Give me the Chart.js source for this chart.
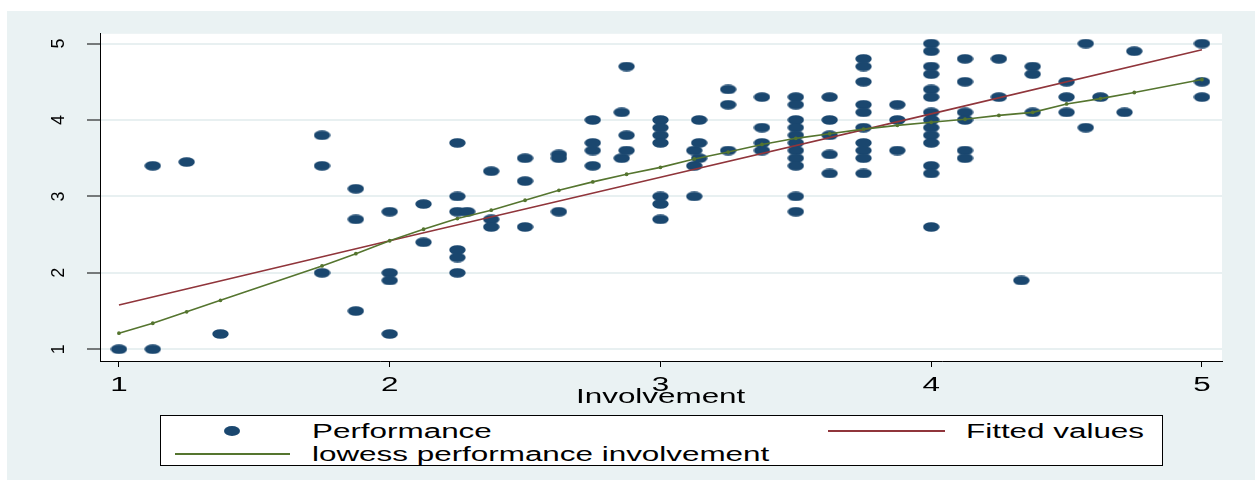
<!DOCTYPE html>
<html>
<head>
<meta charset="utf-8">
<script src="https://cdn.jsdelivr.net/npm/chart.js@4.4.0/dist/chart.umd.min.js"></script>
<style>
  body { margin: 0; width: 1259px; height: 485px; overflow: hidden; position: relative; background: #fff;
         font-family: "Liberation Sans", Arial, sans-serif; color: #000; }
  #panel { position: absolute; left: 7px; top: 11px; width: 1248px; height: 469px; background: #eaf2f3; }
  #chart { position: absolute; left: 0; top: 0; }
  .txt { position: absolute; font-size: 20px; line-height: 20px; white-space: nowrap;
         transform: scaleX(1.57); transform-origin: 0 0; }
  #legend { position: absolute; left: 160px; top: 415px; width: 1003px; height: 51px; background: #fff;
            border: 1px solid #000; box-sizing: border-box; }
  .mk { position: absolute; left: 224px; top: 426px; width: 16px; height: 10px; border-radius: 50%; background: #1a476f; }
  .ln { position: absolute; height: 0; border-top: 2px solid; }
</style>
</head>
<body>
<div id="panel"></div>
<canvas id="chart" width="1259" height="485"></canvas>
<div class="txt" style="left:576px; top:386px;">Involvement</div>
<div id="legend"></div>
<span class="mk"></span>
<div class="txt" style="left:312px; top:421px;">Performance</div>
<div class="ln" style="left:828px; width:117px; top:430px; border-color:#90353b;"></div>
<div class="txt" style="left:966px; top:421px;">Fitted values</div>
<div class="ln" style="left:175px; width:115px; top:453px; border-color:#55752f;"></div>
<div class="txt" style="left:312px; top:444px;">lowess performance involvement</div>
<script>
// scatter: Involvement (x) vs Performance (y)
const involvement = [
  1,
  1.125, 1.125,
  1.25,
  1.375,
  1.75, 1.75, 1.75,
  1.875, 1.875, 1.875,
  2, 2, 2, 2,
  2.125, 2.125,
  2.25, 2.25, 2.25, 2.25, 2.25, 2.25,
  2.286,
  2.375, 2.375, 2.375,
  2.5, 2.5, 2.5,
  2.625, 2.625, 2.625,
  2.75, 2.75, 2.75, 2.75,
  2.857, 2.857,
  2.875, 2.875, 2.875,
  3, 3, 3, 3, 3, 3, 3,
  3.125, 3.125, 3.125,
  3.143, 3.143, 3.143,
  3.25, 3.25, 3.25,
  3.375, 3.375, 3.375, 3.375,
  3.5, 3.5, 3.5, 3.5, 3.5, 3.5, 3.5, 3.5, 3.5, 3.5, 3.5,
  3.625, 3.625, 3.625, 3.625, 3.625,
  3.75, 3.75, 3.75, 3.75, 3.75, 3.75, 3.75, 3.75, 3.75, 3.75,
  3.875, 3.875, 3.875,
  4, 4, 4, 4, 4, 4, 4, 4, 4, 4, 4, 4, 4, 4,
  4.125, 4.125, 4.125, 4.125, 4.125, 4.125,
  4.25, 4.25,
  4.333,
  4.375, 4.375, 4.375,
  4.5, 4.5, 4.5,
  4.571, 4.571,
  4.625,
  4.714,
  4.75,
  5, 5, 5
];
const performance = [
  1.0,
  3.4, 1.0,
  3.45,
  1.2,
  3.8, 3.4, 2.0,
  3.1, 2.7, 1.5,
  2.8, 2.0, 1.9, 1.2,
  2.9, 2.4,
  3.7, 3.0, 2.8, 2.3, 2.2, 2.0,
  2.8,
  3.33, 2.7, 2.6,
  3.5, 3.2, 2.6,
  3.55, 3.5, 2.8,
  4.0, 3.7, 3.6, 3.4,
  4.1, 3.5,
  4.7, 3.8, 3.6,
  4.0, 3.9, 3.8, 3.7, 3.0, 2.9, 2.7,
  3.6, 3.4, 3.0,
  4.0, 3.7, 3.5,
  4.4, 4.2, 3.6,
  4.3, 3.9, 3.7, 3.6,
  4.3, 4.2, 4.0, 3.9, 3.8, 3.7, 3.6, 3.5, 3.4, 3.0, 2.8,
  4.3, 4.0, 3.8, 3.55, 3.3,
  4.8, 4.7, 4.5, 4.2, 4.1, 3.9, 3.7, 3.6, 3.5, 3.3,
  4.2, 4.0, 3.6,
  5.0, 4.9, 4.7, 4.6, 4.4, 4.3, 4.1, 4.0, 3.9, 3.8, 3.7, 3.4, 3.3, 2.6,
  4.8, 4.5, 4.1, 4.0, 3.6, 3.5,
  4.8, 4.3,
  1.9,
  4.7, 4.6, 4.1,
  4.5, 4.3, 4.1,
  5.0, 3.9,
  4.3,
  4.1,
  4.9,
  5.0, 4.5, 4.3
];

// linear fit
const fitX = [1, 2, 3, 4, 5];
const fitY = [1.58, 2.42, 3.25, 4.08, 4.92];

// lowess performance involvement
const lowessX = [1, 1.125, 1.25, 1.375, 1.75, 1.875, 2, 2.125, 2.25, 2.375, 2.5, 2.625, 2.75, 2.875, 3,
                 3.125, 3.25, 3.375, 3.5, 3.625, 3.75, 3.875, 4, 4.125, 4.25, 4.375, 4.5, 4.625, 4.75, 5];
const lowessY = [1.21, 1.34, 1.49, 1.64, 2.09, 2.25, 2.42, 2.57, 2.71, 2.82, 2.95, 3.08, 3.19, 3.29, 3.38,
                 3.49, 3.58, 3.68, 3.76, 3.82, 3.88, 3.93, 3.97, 4.01, 4.06, 4.10, 4.21, 4.28, 4.36, 4.53];

const xTicks = [1, 2, 3, 4, 5];
const yTicks = [1, 2, 3, 4, 5];

const FONT = '"Liberation Sans", Arial, sans-serif';

function pairs(xs, ys) {
  return xs.map(function (x, i) { return { x: x, y: ys[i] }; });
}

// stretched round marker
const dot = document.createElement('canvas');
dot.width = 17; dot.height = 10;
(function () {
  const c = dot.getContext('2d');
  c.fillStyle = '#1a476f';
  c.beginPath();
  c.ellipse(8.5, 5, 8.2, 4.8, 0, 0, Math.PI * 2);
  c.fill();
})();

const plotBg = {
  id: 'plotBg',
  beforeDraw: function (chart) {
    const a = chart.chartArea, ctx = chart.ctx;
    ctx.save();
    ctx.fillStyle = '#ffffff';
    ctx.fillRect(a.left, a.top, a.right - a.left, a.bottom - a.top);
    ctx.restore();
  },
  // x tick labels, widened like the rest of the graph text
  afterDraw: function (chart) {
    const sx = chart.scales.x, ctx = chart.ctx;
    ctx.save();
    ctx.fillStyle = '#000';
    ctx.font = '20px ' + FONT;
    ctx.textAlign = 'center';
    ctx.textBaseline = 'alphabetic';
    xTicks.forEach(function (v) {
      ctx.save();
      ctx.translate(sx.getPixelForValue(v), 391);
      ctx.scale(1.57, 1);
      ctx.fillText(String(v), 0, 0);
      ctx.restore();
    });
    ctx.restore();
  }
};

new Chart(document.getElementById('chart'), {
  type: 'scatter',
  data: {
    datasets: [
      {
        label: 'lowess performance involvement',
        type: 'line',
        data: pairs(lowessX, lowessY),
        borderColor: '#55752f',
        backgroundColor: '#55752f',
        borderWidth: 1.6,
        pointRadius: 1.1,
        fill: false,
        order: 0
      },
      {
        label: 'Fitted values',
        type: 'line',
        data: pairs(fitX, fitY),
        borderColor: '#90353b',
        borderWidth: 1.6,
        pointRadius: 0,
        fill: false,
        order: 1
      },
      {
        label: 'Performance',
        data: pairs(involvement, performance),
        pointStyle: dot,
        pointRadius: 5,
        backgroundColor: '#1a476f',
        order: 2
      }
    ]
  },
  options: {
    responsive: false,
    animation: false,
    devicePixelRatio: 1,
    layout: { padding: { top: 28, right: 37, left: 0, bottom: 0 } },
    plugins: { legend: { display: false }, tooltip: { enabled: false } },
    scales: {
      x: {
        type: 'linear',
        min: 0.93,
        max: 5.074,
        afterBuildTicks: function (s) { s.ticks = xTicks.map(function (v) { return { value: v }; }); },
        afterFit: function (s) { s.height = 124; },
        grid: { drawOnChartArea: false, tickLength: 6, tickColor: '#000', tickWidth: 1 },
        border: { color: '#000', width: 1 },
        ticks: { display: false }
      },
      y: {
        type: 'linear',
        min: 0.846,
        max: 5.128,
        afterBuildTicks: function (s) { s.ticks = yTicks.map(function (v) { return { value: v }; }); },
        afterFit: function (s) { s.width = 100; },
        grid: { color: '#e8f0f1', lineWidth: 2, tickLength: 13, tickColor: '#000', tickWidth: 1 },
        border: { color: '#000', width: 1 },
        ticks: { color: '#000', font: { family: FONT, size: 18 }, padding: 23,
                 minRotation: 90, maxRotation: 90, crossAlign: 'center' }
      }
    }
  },
  plugins: [plotBg]
});
</script>
</body>
</html>
